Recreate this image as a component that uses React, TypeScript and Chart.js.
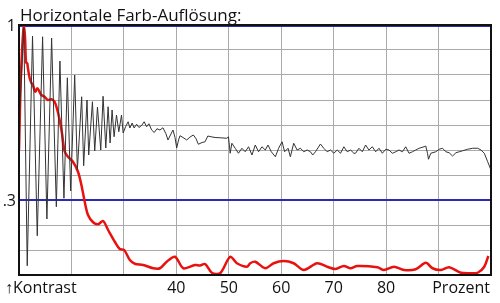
import React, { useEffect, useRef } from "react";
import { Chart, registerables } from "chart.js";

Chart.register(...registerables);

const TITLE = "Horizontale Farb-Auflösung:";
const X_TICKS = [40, 50, 60, 70, 80];
const Y_TICK_LABELS: [number, string][] = [
  [1, "1"],
  [0.3, ".3"],
];
const X_CAPTION_LEFT = "↑Kontrast";
const X_CAPTION_RIGHT = "Prozent";

const blackX = [
  10.0, 10.92, 11.57, 12.58, 13.48, 14.5, 15.32, 16.22, 17.12, 17.8, 18.57, 19.22, 19.85, 20.62, 21.13,
  21.95, 22.33, 22.97, 23.29, 24.0, 24.44, 24.96, 25.59, 26.03, 26.55, 26.99, 27.37, 27.75, 28.13, 28.59,
  29.03, 29.55, 29.86, 30.32, 30.81, 31.14, 31.58, 31.96, 32.42, 32.86, 33.38, 33.87, 34.33, 34.77, 35.29,
  35.79, 36.3, 36.88, 37.45, 38.02, 38.41, 38.88, 39.36, 39.75, 40.07, 40.42, 40.7, 41.28, 41.98, 42.61,
  43.25, 43.76, 44.2, 44.91, 45.48, 46.0, 46.63, 47.4, 48.35, 49.64, 49.94, 50.27, 50.59, 51.22, 51.85,
  52.5, 53.14, 53.77, 54.42, 55.05, 55.68, 56.33, 56.96, 57.48, 58.11, 58.88, 59.51, 60.16, 60.65, 61.3,
  61.74, 62.38, 63.03, 63.66, 64.29, 64.94, 65.57, 66.01, 66.53, 67.48, 68.11, 68.76, 69.4, 70.03, 70.68,
  71.31, 71.94, 72.59, 73.22, 73.85, 74.18, 74.81, 75.46, 76.09, 76.72, 77.37, 78.01, 78.64, 79.29, 79.92,
  80.55, 81.2, 81.83, 82.46, 83.11, 83.74, 84.37, 85.02, 85.65, 86.29, 87.24, 87.56, 87.89, 88.08, 88.52,
  89.48, 90.11, 90.76, 91.39, 92.02, 92.67, 93.31, 93.94, 94.59, 95.54, 96.5, 97.46, 98.09, 98.72, 99.37,
  100.0,
];
const blackY = [
  0.6, 0.99, 0.037, 0.956, 0.157, 0.953, 0.224, 0.948, 0.273, 0.856, 0.307, 0.789, 0.336, 0.8, 0.42,
  0.713, 0.437, 0.7, 0.48, 0.693, 0.496, 0.672, 0.5, 0.715, 0.508, 0.673, 0.528, 0.66, 0.553, 0.64,
  0.573, 0.64, 0.568, 0.593, 0.613, 0.588, 0.608, 0.588, 0.603, 0.59, 0.598, 0.613, 0.593, 0.605, 0.58,
  0.57, 0.585, 0.58, 0.589, 0.565, 0.54, 0.56, 0.58, 0.55, 0.508, 0.54, 0.557, 0.55, 0.54, 0.552,
  0.56, 0.545, 0.523, 0.53, 0.533, 0.556, 0.553, 0.55, 0.549, 0.547, 0.553, 0.487, 0.527, 0.507, 0.487,
  0.507, 0.493, 0.513, 0.48, 0.52, 0.493, 0.513, 0.5, 0.52, 0.493, 0.473, 0.507, 0.533, 0.493, 0.507,
  0.473, 0.527, 0.5, 0.507, 0.493, 0.5, 0.493, 0.48, 0.493, 0.524, 0.507, 0.493, 0.5, 0.487, 0.5,
  0.487, 0.513, 0.493, 0.5, 0.487, 0.487, 0.507, 0.493, 0.52, 0.5, 0.513, 0.493, 0.507, 0.487, 0.503,
  0.5, 0.487, 0.493, 0.5, 0.493, 0.513, 0.487, 0.493, 0.5, 0.507, 0.513, 0.516, 0.487, 0.463, 0.487,
  0.493, 0.503, 0.507, 0.493, 0.489, 0.476, 0.489, 0.493, 0.497, 0.503, 0.507, 0.507, 0.5, 0.487, 0.453,
  0.42,
];

const redX = [
  10.0, 10.38, 10.92, 11.15, 11.34, 11.57, 11.68, 12.01, 12.33, 12.64, 13.1, 13.48, 13.92, 14.25, 14.88,
  15.51, 16.16, 16.79, 17.31, 17.75, 18.19, 18.7, 19.33, 20.29, 21.25, 21.9, 22.53, 23.16, 24.12, 25.07,
  26.03, 26.99, 28.27, 29.22, 30.05, 31.14, 32.09, 33.68, 35.59, 36.88, 38.16, 39.75, 41.33, 43.57, 44.53,
  45.48, 46.77, 48.35, 50.27, 51.55, 53.46, 54.09, 55.05, 56.96, 58.55, 60.46, 62.38, 64.29, 66.85, 68.76,
  70.35, 71.94, 73.22, 74.5, 78.33, 79.59, 81.5, 83.42, 85.65, 87.56, 88.85, 90.44, 92.02, 94.26, 96.18,
  97.46, 98.72, 99.49,
];
const redY = [
  0.5, 0.8, 1.0, 0.95, 0.85, 0.847, 0.83, 0.79, 0.77, 0.76, 0.733, 0.747, 0.733, 0.72, 0.713,
  0.7, 0.703, 0.693, 0.66, 0.62, 0.568, 0.495, 0.473, 0.453, 0.413, 0.36, 0.293, 0.24, 0.211, 0.203,
  0.216, 0.18, 0.133, 0.104, 0.1, 0.06, 0.045, 0.04, 0.027, 0.027, 0.053, 0.073, 0.027, 0.04, 0.038,
  0.044, 0.009, 0.007, 0.073, 0.047, 0.033, 0.047, 0.053, 0.027, 0.047, 0.056, 0.047, 0.02, 0.047, 0.033,
  0.024, 0.036, 0.027, 0.036, 0.031, 0.02, 0.033, 0.02, 0.023, 0.049, 0.027, 0.02, 0.031, 0.009, 0.007,
  0.009, 0.033, 0.076,
];

const FONT = '"Open Sans", "Noto Sans", sans-serif';
const BLUE = "#2b2bb5";

const textPlugin = {
  id: "texts",
  beforeDatasetsDraw(chart: any) {
    const { ctx, chartArea, scales } = chart;
    const y = scales.y;
    ctx.save();
    ctx.strokeStyle = BLUE;
    ctx.lineWidth = 2;
    [1, 0.3].forEach((v) => {
      const py = Math.round(y.getPixelForValue(v)) + (v === 1 ? 1 : 0);
      ctx.beginPath();
      ctx.moveTo(chartArea.left, py);
      ctx.lineTo(chartArea.right, py);
      ctx.stroke();
    });
    ctx.restore();
  },
  afterDraw(chart: any) {
    const { ctx, chartArea, scales } = chart;
    const x = scales.x;
    const y = scales.y;
    ctx.save();
    // frame
    ctx.strokeStyle = "#111";
    ctx.lineWidth = 2;
    ctx.strokeRect(chartArea.left, chartArea.top, chartArea.right - chartArea.left, chartArea.bottom - chartArea.top);
    ctx.fillStyle = "#111";
    ctx.textBaseline = "alphabetic";
    ctx.font = `17px ${FONT}`;
    ctx.textAlign = "left";
    ctx.fillText(TITLE, 20, 21);
    ctx.font = `16px ${FONT}`;
    ctx.textAlign = "right";
    ctx.textBaseline = "middle";
    Y_TICK_LABELS.forEach(([v, s]) => {
      ctx.fillText(s, chartArea.left - 3, y.getPixelForValue(v) + 1);
    });
    ctx.textAlign = "center";
    ctx.textBaseline = "middle";
    X_TICKS.forEach((v) => {
      ctx.fillText(String(v), x.getPixelForValue(v), 288);
    });
    ctx.textAlign = "left";
    ctx.fillText(X_CAPTION_LEFT, 5, 288);
    ctx.textAlign = "right";
    ctx.fillText(X_CAPTION_RIGHT, chartArea.right - 1, 288);
    ctx.restore();
  },
};

export default function App() {
  const ref = useRef<HTMLCanvasElement | null>(null);
  useEffect(() => {
    document.body.style.margin = "0";
    if (!ref.current) return;
    const chart = new Chart(ref.current, {
      type: "scatter",
      data: {
        datasets: [
          {
            label: "Kontrast",
            data: blackX.map((v, i) => ({ x: v, y: blackY[i] })),
            showLine: true,
            borderColor: "#333",
            borderWidth: 1,
            pointRadius: 0,
            tension: 0,
          },
          {
            label: "Farbe",
            data: redX.map((v, i) => ({ x: v, y: redY[i] })),
            showLine: true,
            borderColor: "#e8110f",
            borderWidth: 2.5,
            pointRadius: 0,
            tension: 0.3,
          },
        ],
      },
      options: {
        animation: false,
        responsive: false,
        events: [],
        layout: { padding: { left: 19, right: 9, top: 25, bottom: 28 } },
        plugins: { legend: { display: false }, tooltip: { enabled: false }, title: { display: false } },
        scales: {
          x: {
            type: "linear",
            min: 10,
            max: 100,
            ticks: { display: false, stepSize: 10 },
            grid: { color: "#aaa", lineWidth: 1, drawTicks: false },
            border: { display: false },
          },
          y: {
            type: "linear",
            min: 0,
            max: 1,
            ticks: { display: false, stepSize: 0.1 },
            grid: { color: "#aaa", lineWidth: 1, drawTicks: false },
            border: { display: false },
          },
        },
      },
      plugins: [textPlugin],
    });
    return () => chart.destroy();
  }, []);
  return (
    <div style={{ position: "fixed", left: 0, top: 0, width: 500, height: 303, background: "#fff" }}>
      <canvas ref={ref} width={500} height={303} style={{ width: 500, height: 303 }} />
    </div>
  );
}
